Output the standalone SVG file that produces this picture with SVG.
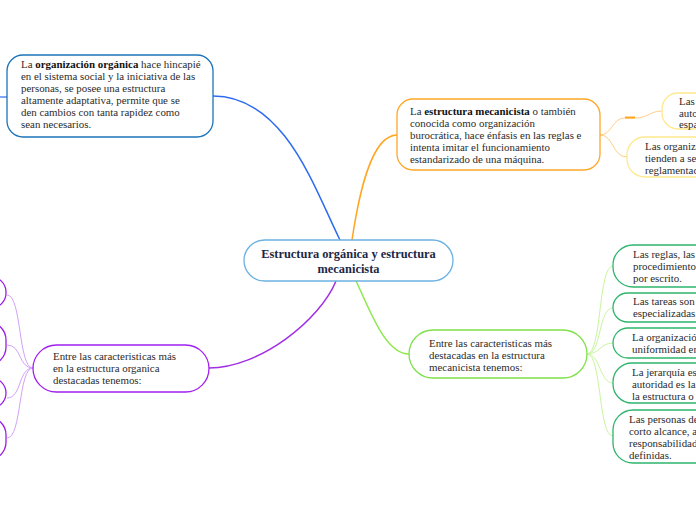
<svg xmlns="http://www.w3.org/2000/svg" width="696" height="520" viewBox="0 0 696 520">
<style>
text{font-family:"Liberation Serif","DejaVu Serif",serif;font-size:10.9px;fill:#2b2b2b}
.b{font-weight:bold;fill:#111}
.title{font-size:12.4px;font-weight:bold;fill:#1c2745}
.node{fill:#fff;stroke-width:1.3}
.c{fill:none}
</style>
<rect width="696" height="520" fill="#fff"/>
<g id="connectors">
  <path class="c" d="M213,96 C285,96 315,190 340,240" stroke="#2d6cf0" stroke-width="1.5"/>
  <line x1="0" y1="97" x2="7" y2="97" stroke="#2d6cf0" stroke-width="1.2"/>
  <path class="c" d="M397,135 C370,135 358,200 352,240" stroke="#ffa520" stroke-width="1.5"/>
  <path class="c" d="M409,354 C385,354 370,310 356,281" stroke="#8de84c" stroke-width="1.5"/>
  <path class="c" d="M209,368 C260,368 320,320 336,281" stroke="#a22ee2" stroke-width="1.5"/>
  <g stroke="#ffcf85" stroke-width="1">
    <path class="c" d="M600,135 C612,135 612,118 625,118 L635,118 C648,118 650,111 662,111"/>
    <path class="c" d="M600,135 C614,135 612,157 627,157"/>
  </g>
  <line x1="625" y1="117.5" x2="635" y2="117.5" stroke="#ffa520" stroke-width="2"/>
  <g stroke="#c8f59e" stroke-width="1">
    <path class="c" d="M587,354 C602,354 598,266 613,266"/>
    <path class="c" d="M587,354 C602,354 598,308 613,308"/>
    <path class="c" d="M587,354 C600,354 600,343 613,343"/>
    <path class="c" d="M587,354 C600,354 600,383 613,383"/>
    <path class="c" d="M587,354 C602,354 598,436 613,436"/>
  </g>
  <g stroke="#d3a2f6" stroke-width="1">
    <path class="c" d="M33,368 C18,368 22,295 7,295"/>
    <path class="c" d="M33,368 C18,368 22,345 7,345"/>
    <path class="c" d="M33,368 C18,368 22,398 7,398"/>
    <path class="c" d="M33,368 C18,368 22,438 7,438"/>
  </g>
</g>
<g id="central">
  <rect class="node" x="244" y="240" width="209" height="41" rx="20.5" stroke="#6cb2e2" stroke-width="1.5"/>
  <text class="title" x="348.5" y="258" text-anchor="middle">Estructura orgánica y estructura</text>
  <text class="title" x="348.5" y="273" text-anchor="middle">mecanicista</text>
</g>
<g id="organica">
  <rect class="node" x="7" y="55" width="206" height="82" rx="16" stroke="#1b74bb"/>
  <text x="21" y="68"><tspan>La </tspan><tspan class="b">organización orgánica</tspan><tspan> hace hincapié</tspan></text>
  <text x="21" y="80">en el sistema social y la iniciativa de las</text>
  <text x="21" y="92">personas, se posee una estructura</text>
  <text x="21" y="104">altamente adaptativa, permite que se</text>
  <text x="21" y="116">den cambios con tanta rapidez como</text>
  <text x="21" y="128">sean necesarios.</text>
</g>
<g id="mecanicista">
  <rect class="node" x="397" y="99" width="203" height="71" rx="16" stroke="#ffa726"/>
  <text x="410" y="115"><tspan>La </tspan><tspan class="b">estructura mecanicista</tspan><tspan> o también</tspan></text>
  <text x="410" y="127">conocida como organización</text>
  <text x="410" y="139">burocrática, hace énfasis en las reglas e</text>
  <text x="410" y="151">intenta imitar el funcionamiento</text>
  <text x="410" y="163">estandarizado de una máquina.</text>
</g>
<g id="mec-sub1">
  <rect class="node" x="662" y="93" width="80" height="36" rx="16" stroke="#ffe98c"/>
  <text x="679" y="105">Las p</text>
  <text x="679" y="117">auto</text>
  <text x="679" y="128">espa</text>
</g>
<g id="mec-sub2">
  <rect class="node" x="627" y="137" width="110" height="40" rx="18" stroke="#ffe98c"/>
  <text x="645" y="150">Las organiza</text>
  <text x="645" y="162">tienden a se</text>
  <text x="645" y="174">reglamentad</text>
</g>
<g id="mec-caract">
  <rect class="node" x="409" y="330" width="178" height="48" rx="24" stroke="#7ee04a"/>
  <text x="429" y="347">Entre las caracteristicas más</text>
  <text x="429" y="359">destacadas en la estructura</text>
  <text x="429" y="371">mecanicista tenemos:</text>
</g>
<g id="g1">
  <rect class="node" x="613" y="245" width="120" height="42" rx="20" stroke="#2db56c"/>
  <text x="633" y="258">Las reglas, las</text>
  <text x="633" y="270">procedimiento</text>
  <text x="633" y="282">por escrito.</text>
</g>
<g id="g2">
  <rect class="node" x="613" y="293" width="120" height="29" rx="14.5" stroke="#2db56c"/>
  <text x="633" y="305">Las tareas son</text>
  <text x="633" y="317">especializadas.</text>
</g>
<g id="g3">
  <rect class="node" x="613" y="328" width="120" height="30" rx="15" stroke="#2db56c"/>
  <text x="632" y="341">La organizació</text>
  <text x="632" y="353">uniformidad en</text>
</g>
<g id="g4">
  <rect class="node" x="613" y="363" width="120" height="40" rx="19" stroke="#2db56c"/>
  <text x="632" y="376">La jerarquía es</text>
  <text x="632" y="388">autoridad es la</text>
  <text x="632" y="400">la estructura o</text>
</g>
<g id="g5">
  <rect class="node" x="613" y="410" width="120" height="53" rx="20" stroke="#2db56c"/>
  <text x="629" y="423">Las personas de</text>
  <text x="629" y="435">corto alcance, a</text>
  <text x="629" y="447">responsabilidad</text>
  <text x="629" y="459">definidas.</text>
</g>
<g id="org-caract">
  <rect class="node" x="33" y="345" width="176" height="47" rx="23.5" stroke="#a020f0"/>
  <text x="53" y="360">Entre las caracteristicas más</text>
  <text x="53" y="372">en la estructura organica</text>
  <text x="53" y="384">destacadas tenemos:</text>
</g>
<g id="p1"><rect class="node" x="-120" y="277" width="126" height="31" rx="15" stroke="#9a1ee6"/></g>
<g id="p2"><rect class="node" x="-120" y="322" width="126" height="43" rx="18" stroke="#9a1ee6"/></g>
<g id="p3"><rect class="node" x="-120" y="378" width="126" height="30" rx="15" stroke="#9a1ee6"/></g>
<g id="p4"><rect class="node" x="-120" y="417" width="126" height="43" rx="18" stroke="#9a1ee6"/></g>
</svg>
